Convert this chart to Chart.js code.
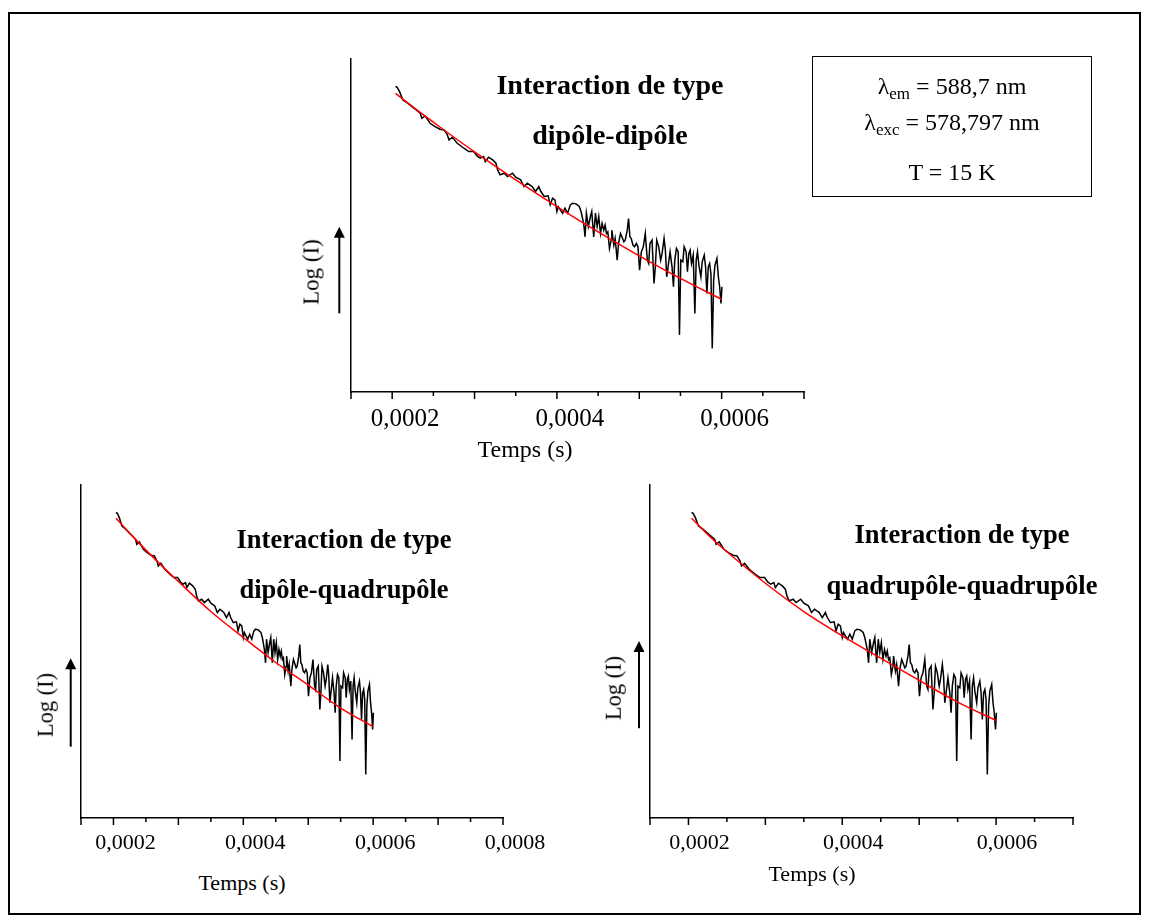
<!DOCTYPE html>
<html lang="fr">
<head>
<meta charset="utf-8">
<title>Déclins de luminescence – ajustements</title>
<script src="https://cdn.jsdelivr.net/npm/chart.js@4.4.1/dist/chart.umd.min.js"></script>
<style>
  html, body { margin: 0; padding: 0; background: #fff; }
  #page { position: relative; width: 1149px; height: 918px; overflow: hidden;
          font-family: "Liberation Serif", "Times New Roman", serif; color: #000; }
  #frame { position: absolute; left: 8px; top: 12px; width: 1133px; height: 903px;
           border: 2px solid #000; box-sizing: border-box; }
  canvas { position: absolute; display: block; }
  .t { position: absolute; white-space: nowrap; text-align: center; }
  .ttl { font-weight: bold; }
  .rot { transform: translate(-50%, -50%) rotate(-90deg); }
  #info { position: absolute; left: 812px; top: 56px; width: 280px; height: 141px;
          border: 1.5px solid #000; box-sizing: border-box; }
  #info .t { left: 0; width: 100%; font-size: 24px; line-height: 24px; }
  .sub { font-size: 17px; position: relative; top: 5px; }
</style>
</head>
<body>
<div id="page">
  <div id="frame"></div>

  <canvas id="chDD" width="523" height="393" style="left:321px; top:49px;"></canvas>
  <canvas id="chDQ" width="512" height="393" style="left:51px; top:475px;"></canvas>
  <canvas id="chQQ" width="503" height="393" style="left:620px; top:475px;"></canvas>

  <div class="t ttl" style="left:410px; top:59.5px; width:400px; font-size:28px; line-height:50px;">Interaction de type<br>dipôle-dipôle</div>
  <div class="t ttl" style="left:144px; top:513.5px; width:400px; font-size:26.5px; line-height:50.5px;">Interaction de type<br>dipôle-quadrupôle</div>
  <div class="t ttl" style="left:762px; top:509px; width:400px; font-size:26.5px; line-height:50.5px;">Interaction de type<br>quadrupôle-quadrupôle</div>

  <div class="t" style="left:325px; top:436.6px; width:400px; font-size:24px; line-height:24px;">Temps (s)</div>
  <div class="t" style="left:42px; top:871.6px; width:400px; font-size:22px; line-height:22px;">Temps (s)</div>
  <div class="t" style="left:612px; top:863.3px; width:400px; font-size:22px; line-height:22px;">Temps (s)</div>

  <div class="t rot" style="left:311px; top:272px; font-size:23px; line-height:23px;">Log (I)</div>
  <div class="t rot" style="left:46px; top:705px; font-size:22.5px; line-height:22.5px;">Log (I)</div>
  <div class="t rot" style="left:614px; top:688px; font-size:22.5px; line-height:22.5px;">Log (I)</div>

  <div id="info">
    <div class="t" style="top:16.7px;">λ<span class="sub">em</span> = 588,7 nm</div>
    <div class="t" style="top:53.4px;">λ<span class="sub">exc</span> = 578,797 nm</div>
    <div class="t" style="top:103.4px;">T = 15 K</div>
  </div>
</div>

<script>
// Measured decay: sample times (µs) and Log(I) in arbitrary units
const tMeasured = [
  204, 206, 209, 213, 218, 224, 228, 234, 236, 240,
  246, 252, 258, 263, 267, 269, 273, 279, 287, 293,
  299, 303, 307, 311, 313, 317, 322, 326, 328, 331,
  336, 340, 346, 350, 356, 360, 364, 370, 374, 378,
  380.5, 384.6, 389.4, 391.9, 394.7, 397.6, 400.0, 401.6, 404.1, 406.9,
  409.8, 413.0, 416.3, 419.1, 423.2, 427.2, 429.3, 432.5, 434.2, 435.8,
  438.2, 440.7, 442.3, 444.7, 446.8, 448.8, 450.8, 452.9, 454.9, 456.9,
  458.5, 460.2, 461.8, 463.8, 465.9, 466.7, 469.1, 470.7, 473.2, 474.8,
  477.2, 478.9, 481.3, 482.9, 485.4, 487.0, 488.6, 490.3, 492.3, 494.3,
  496.4, 498.4, 500.4, 502.5, 504.9, 507.3, 509.8, 511.4, 513.0, 515.5,
  517.9, 519.5, 521.2, 523.6, 526.0, 527.7, 530.1, 531.7, 533.3, 535.0,
  537.4, 539.8, 541.5, 543.1, 545.1, 547.2, 548.8, 550.4, 552.9, 554.5,
  556.9, 558.5, 560.2, 561.8, 563.4, 565.5, 567.5, 569.1, 570.7, 572.4,
  574.8, 576.4, 578.9, 580.5, 582.1, 583.8, 585.4, 587.0, 588.6, 590.3,
  591.9, 594.3, 596.0, 597.6, 599.2, 600.4
];
const logIMeasured = [
  9.18, 9.15, 9.02, 8.77, 8.69, 8.57, 8.49, 8.37, 8.22, 8.29,
  8.07, 7.97, 7.89, 7.87, 7.72, 7.57, 7.65, 7.47, 7.32, 7.22,
  7.22, 7.09, 7.02, 7.07, 6.92, 7.05, 6.97, 6.87, 6.67, 6.52,
  6.57, 6.47, 6.57, 6.45, 6.37, 6.17, 6.27, 6.17, 6.02, 6.17,
  6.02, 5.87, 5.89, 5.62, 5.82, 5.77, 5.42, 5.57, 5.47, 5.37,
  5.52, 5.37, 5.62, 5.67, 5.65, 5.57, 5.42, 5.06, 4.66, 5.37,
  4.97, 5.27, 5.42, 4.66, 5.37, 4.97, 5.27, 4.76, 5.06, 4.86,
  5.01, 4.76, 4.81, 4.31, 4.56, 4.86, 4.41, 4.61, 3.96, 4.46,
  4.76, 4.66, 4.51, 4.56, 4.86, 5.21, 4.66, 4.61, 4.41, 4.36,
  4.46, 4.36, 3.66, 4.21, 4.36, 4.76, 3.96, 3.86, 4.46, 4.56,
  3.26, 3.76, 4.56, 4.36, 3.96, 4.16, 4.61, 4.26, 3.46, 3.76,
  4.21, 3.76, 3.16, 3.96, 4.31, 4.21, 1.71, 3.96, 3.91, 4.36,
  4.21, 3.61, 4.16, 4.26, 3.86, 4.11, 2.36, 3.96, 4.21, 3.81,
  3.46, 3.91, 4.11, 3.76, 2.96, 3.76, 3.86, 3.56, 1.31, 3.36,
  3.81, 4.01, 3.46, 3.16, 2.66, 3.16
];

// Fitted curves, one per energy-transfer mechanism
const tFit = [204, 230, 260, 300, 350, 400, 450, 500, 550, 600];
const logIFitDD = [8.97, 8.47, 7.92, 7.21, 6.37, 5.57, 4.81, 4.09, 3.41, 2.78];
const logIFitDQ = [9.00, 8.45, 7.85, 7.10, 6.20, 5.42, 4.67, 3.99, 3.30, 2.74];
const logIFitQQ = [9.00, 8.40, 7.80, 7.05, 6.20, 5.47, 4.80, 4.13, 3.48, 2.93];

// Labelled ticks of the time axis (µs) and their text in seconds
const xTickValues = [200, 400, 600, 800];
const xTickLabels = ['0,0002', '0,0004', '0,0006', '0,0008'];

const serif = "'Liberation Serif', 'Times New Roman', serif";

function pairs(xs, ys) {
  return xs.map((x, i) => ({ x: x, y: ys[i] }));
}

// Tick marks (long every 100 µs, short in between) and the upward arrow of the Log (I) axis
const axisDecor = {
  id: 'axisDecor',
  afterDraw(chart, args, o) {
    const ctx = chart.ctx, a = chart.chartArea, x = chart.scales.x;
    ctx.save();
    ctx.strokeStyle = '#000';
    ctx.fillStyle = '#000';
    ctx.lineWidth = 1.5;
    x.ticks.forEach((tk, i) => {
      const px = x.getPixelForTick(i);
      const long = i === 0 || Math.round(tk.value) % 100 === 0;
      ctx.beginPath();
      ctx.moveTo(px, a.bottom);
      ctx.lineTo(px, a.bottom + (long ? o.major : o.minor));
      ctx.stroke();
    });
    const ax = a.left + o.arrow.dx, tip = a.top + o.arrow.tip, tail = a.top + o.arrow.tail;
    ctx.lineWidth = 2;
    ctx.beginPath();
    ctx.moveTo(ax, tail);
    ctx.lineTo(ax, tip + 9);
    ctx.stroke();
    ctx.beginPath();
    ctx.moveTo(ax, tip);
    ctx.lineTo(ax - 5.5, tip + 11);
    ctx.lineTo(ax + 5.5, tip + 11);
    ctx.closePath();
    ctx.fill();
    ctx.restore();
  }
};

function makeChart(id, p) {
  return new Chart(document.getElementById(id), {
    type: 'line',
    data: {
      datasets: [
        { label: 'ajustement', data: pairs(tFit, p.fit), borderColor: '#ff0000', borderWidth: 1.5,
          pointRadius: 0, tension: 0.4, cubicInterpolationMode: 'monotone', order: 0 },
        { label: 'mesure', data: pairs(tMeasured, logIMeasured), borderColor: '#000000', borderWidth: 1.5,
          pointRadius: 0, tension: 0, order: 1 }
      ]
    },
    options: {
      responsive: false,
      animation: false,
      devicePixelRatio: 1,
      layout: { padding: { top: 10, right: p.padRight, left: 0, bottom: 0 } },
      plugins: {
        legend: { display: false },
        tooltip: { enabled: false },
        axisDecor: { major: 7, minor: 4, arrow: p.arrow }
      },
      scales: {
        x: {
          type: 'linear', min: 150, max: p.xMax,
          afterFit: s => { s.height = 50; },
          border: { display: true, color: '#000', width: 1.5 },
          grid: { drawOnChartArea: false, drawTicks: false },
          ticks: {
            stepSize: 50, autoSkip: false, maxRotation: 0, minRotation: 0,
            padding: 12, labelOffset: p.labelOffset, color: '#000',
            font: { family: serif, size: p.fontSize },
            callback: v => {
              const k = xTickValues.indexOf(Math.round(v));
              return k < 0 ? '' : xTickLabels[k];
            }
          }
        },
        y: {
          type: 'linear', min: 0, max: 10,
          afterFit: s => { s.width = 30; },
          border: { display: true, color: '#000', width: 1.5 },
          grid: { drawOnChartArea: false, drawTicks: false },
          ticks: { display: false }
        }
      }
    },
    plugins: [axisDecor]
  });
}

makeChart('chDD', { fit: logIFitDD, xMax: 700, padRight: 40, fontSize: 25, labelOffset: 13,
                    arrow: { dx: -11.7, tip: 167.7, tail: 254.3 } });
makeChart('chDQ', { fit: logIFitDQ, xMax: 800, padRight: 60, fontSize: 22, labelOffset: 12,
                    arrow: { dx: -10.3, tip: 173.3, tail: 261.7 } });
makeChart('chQQ', { fit: logIFitQQ, xMax: 700, padRight: 50, fontSize: 22, labelOffset: 11,
                    arrow: { dx: -11, tip: 156, tail: 243.3 } });
</script>
</body>
</html>
